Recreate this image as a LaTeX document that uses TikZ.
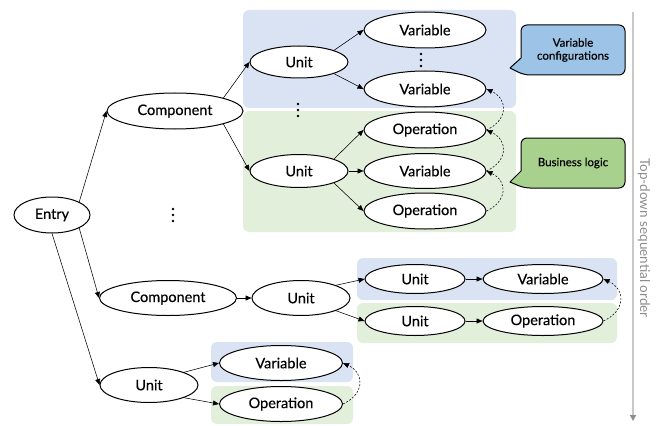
\documentclass[tikz,border=0pt]{standalone}
\usepackage{fontspec}
\setmainfont{Lato}
\newfontfamily\labelfont[FakeBold=0.35]{Lato}
\usetikzlibrary{shapes.geometric,arrows.meta}
\definecolor{bandblue}{HTML}{DAE3F3}
\definecolor{bandgreen}{HTML}{E2EFDA}
\definecolor{noteblue}{HTML}{9DC3E6}
\definecolor{notegreen}{HTML}{A9D18E}
\definecolor{ordergray}{HTML}{C8C8C8}
\definecolor{ordertext}{HTML}{8C8C8C}
\begin{document}
\begin{tikzpicture}[x=1pt,y=-1pt,
  item/.style={ellipse, draw, line width=1pt, fill=white, inner sep=0pt,
    font=\labelfont\fontsize{14.5}{16}\selectfont},
  link/.style={line width=0.55pt, -{Triangle[length=6pt,width=5pt]}},
  seq/.style={line width=0.55pt, dash pattern=on 2pt off 1.6pt, -{Triangle[length=6pt,width=5pt]},
    bend right=65, looseness=1.5},
  band/.style={rounded corners=6pt},
  note/.style={draw, line width=1pt, line join=round},
  notetext/.style={align=center, font=\labelfont\fontsize{11.5}{13}\selectfont}]
\useasboundingbox (0,0) rectangle (660,425);

% coloured bands behind the variable / operation groups
\fill[band, bandblue]  (243,10)  rectangle (516,108);
\fill[band, bandgreen] (243,111) rectangle (516,232);
\fill[band, bandblue]  (357,258) rectangle (617,300);
\fill[band, bandgreen] (357,303) rectangle (617,343);
\fill[band, bandblue]  (211,342) rectangle (353,382);
\fill[band, bandgreen] (211,386) rectangle (353,424);

% nodes
\node[item, minimum width=76pt,  minimum height=36pt] (entry) at (52,215)  {Entry};
\node[item, minimum width=136pt, minimum height=36pt] (comp1) at (175,111) {Component};
\node[item, minimum width=98pt,  minimum height=32pt] (u1)    at (299,62)  {Unit};
\node[item, minimum width=122pt, minimum height=36pt] (v1)    at (425,30)  {Variable};
\node[item, minimum width=122pt, minimum height=36pt] (v2)    at (425,89)  {Variable};
\node[item, minimum width=98pt,  minimum height=33pt] (u2)    at (299,171) {Unit};
\node[item, minimum width=122pt, minimum height=36pt] (o1)    at (425,130) {Operation};
\node[item, minimum width=122pt, minimum height=35pt] (v3)    at (425,171) {Variable};
\node[item, minimum width=122pt, minimum height=36pt] (o2)    at (425,211) {Operation};

\node[item, minimum width=137pt, minimum height=35pt] (comp2) at (168,298) {Component};
\node[item, minimum width=98pt,  minimum height=35pt] (u3)    at (301,298) {Unit};
\node[item, minimum width=100pt, minimum height=29pt] (u4)    at (415,279) {Unit};
\node[item, minimum width=120pt, minimum height=29pt] (v4)    at (543,279) {Variable};
\node[item, minimum width=100pt, minimum height=29pt] (u5)    at (415,321) {Unit};
\node[item, minimum width=120pt, minimum height=29pt] (o3)    at (543,321) {Operation};

\node[item, minimum width=98pt,  minimum height=35pt] (u6)    at (149,385) {Unit};
\node[item, minimum width=123pt, minimum height=35pt] (v5)    at (281,363) {Variable};
\node[item, minimum width=123pt, minimum height=35pt] (o4)    at (281,404) {Operation};

% elided siblings
\foreach \y in {54,60,66}   \fill (421,\y) circle (1.3pt);
\foreach \y in {104,110,116} \fill (298,\y) circle (1.3pt);
\foreach \y in {209,215,221} \fill (173,\y) circle (1.3pt);

% hierarchy links
\draw[link] (entry.north east) -- (comp1.west);
\draw[link] (entry.south east) -- (comp2.west);
\draw[link] (entry.south)      -- (u6.west);
\draw[link] (comp1.north east) -- (u1.west);
\draw[link] (comp1.south east) -- (u2.west);
\draw[link] (u1.north east) -- (v1.west);
\draw[link] (u1.south east) -- (v2.west);
\draw[link] (u2.north east) -- (o1.west);
\draw[link] (u2.east)       -- (v3.west);
\draw[link] (u2.south east) -- (o2.west);
\draw[link] (comp2.east) -- (u3.west);
\draw[link] (u3.north east) -- (u4.west);
\draw[link] (u3.south east) -- (u5.west);
\draw[link] (u4.east) -- (v4.west);
\draw[link] (u5.east) -- (o3.west);
\draw[link] (u6.north east) -- (v5.west);
\draw[link] (u6.south east) -- (o4.west);

% execution order
\draw[seq] (o1.east) to (v2.east);
\draw[seq] (v3.east) to (o1.east);
\draw[seq] (o2.east) to (v3.east);
\draw[seq] (o3.east) to (v4.east);
\draw[seq] (o4.east) to (v5.east);

% callouts
\draw[note, fill=noteblue] (521,58) [rounded corners=6pt] -- (521,25) -- (625,25) -- (625,75) -- (524,75)
  [sharp corners] -- (510,68) -- cycle;
\node[notetext] (cfgnote) at (573,50) {Variable\\configurations};
\draw[note, fill=notegreen] (521,171) [rounded corners=6pt] -- (521,138) -- (625,138) -- (625,188) -- (524,188)
  [sharp corners] -- (510,182) -- cycle;
\node[notetext] (bizlogic) at (573,163) {Business logic};

% order axis
\coordinate (ordtop) at (633,12);
\coordinate (ordbot) at (633,421);
\draw[ordergray, line width=1.4pt, -{Triangle[length=6pt,width=6pt,color=ordertext]}] (ordtop) -- (ordbot);
\node[rotate=-90, text=ordertext, font=\fontsize{13.5}{15}\selectfont] (ordlabel) at (644,238) {Top-down sequential order};
\end{tikzpicture}
\end{document}
